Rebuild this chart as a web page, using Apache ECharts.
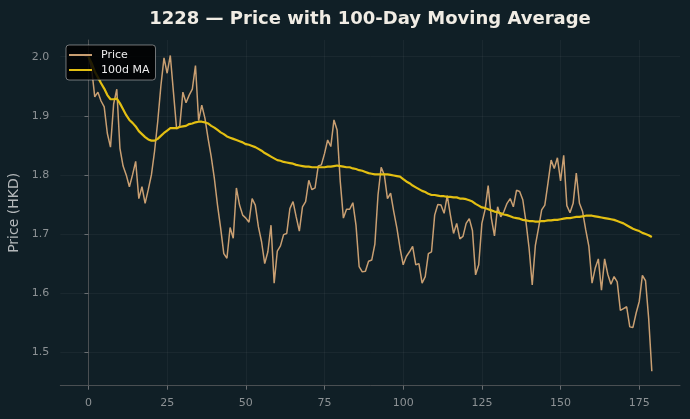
<!DOCTYPE html>
<html>
<head>
<meta charset="utf-8">
<script src="https://cdn.jsdelivr.net/npm/echarts@6/dist/echarts.min.js"></script>
<style>
html,body{margin:0;padding:0;background:#101f26;}
#c{width:690px;height:419px;}
</style>
</head>
<body>
<div id="c"></div>
<script>
const TITLE = '1228 \u2014 Price with 100-Day Moving Average';
const xTicks = [0, 25, 50, 75, 100, 125, 150, 175];
const yTicks = [1.5, 1.6, 1.7, 1.8, 1.9, 2.0];

const price = [
  2.000, 1.980, 1.932, 1.940, 1.925, 1.915, 1.870, 1.847, 1.920, 1.945,
  1.845, 1.815, 1.800, 1.780, 1.800, 1.823, 1.760, 1.780, 1.752, 1.775,
  1.800, 1.840, 1.890, 1.950, 1.998, 1.972, 2.002, 1.940, 1.878, 1.882,
  1.940, 1.922, 1.935, 1.945, 1.985, 1.892, 1.918, 1.896, 1.862, 1.831,
  1.794, 1.749, 1.710, 1.667, 1.659, 1.711, 1.693, 1.778, 1.749, 1.732,
  1.727, 1.720, 1.760, 1.749, 1.712, 1.687, 1.650, 1.670, 1.715, 1.617,
  1.671, 1.680, 1.699, 1.701, 1.743, 1.755, 1.729, 1.705, 1.746, 1.755,
  1.791, 1.775, 1.778, 1.815, 1.817, 1.836, 1.859, 1.848, 1.893, 1.876,
  1.789, 1.727, 1.742, 1.742, 1.753, 1.715, 1.645, 1.636, 1.637, 1.654,
  1.656, 1.683, 1.766, 1.813, 1.800, 1.760, 1.769, 1.738, 1.710, 1.676,
  1.648, 1.662, 1.670, 1.679, 1.648, 1.650, 1.617, 1.628, 1.667, 1.670,
  1.732, 1.750, 1.749, 1.735, 1.765, 1.732, 1.701, 1.718, 1.692, 1.696,
  1.718, 1.726, 1.706, 1.631, 1.648, 1.718, 1.741, 1.782, 1.727, 1.697,
  1.746, 1.729, 1.738, 1.752, 1.760, 1.746, 1.774, 1.772, 1.758, 1.721,
  1.676, 1.614, 1.681, 1.710, 1.741, 1.749, 1.786, 1.825, 1.811, 1.829,
  1.790, 1.833, 1.748, 1.736, 1.752, 1.803, 1.752, 1.738, 1.707, 1.679,
  1.617, 1.642, 1.658, 1.605, 1.658, 1.632, 1.615, 1.628, 1.619, 1.571,
  1.574, 1.577, 1.543, 1.542, 1.566, 1.586, 1.630, 1.621, 1.557, 1.468
];

const ma100 = [
  2.000, 1.989, 1.975, 1.965, 1.955, 1.946, 1.935, 1.928, 1.928, 1.929,
  1.921, 1.911, 1.901, 1.893, 1.888, 1.882, 1.874, 1.869, 1.864, 1.860,
  1.858, 1.858, 1.861, 1.866, 1.871, 1.875, 1.879, 1.879, 1.879, 1.881,
  1.882, 1.883, 1.886, 1.887, 1.889, 1.890, 1.890, 1.889, 1.887, 1.883,
  1.880, 1.876, 1.872, 1.869, 1.865, 1.863, 1.861, 1.859, 1.857, 1.855,
  1.852, 1.851, 1.849, 1.847, 1.844, 1.841, 1.837, 1.834, 1.831, 1.828,
  1.825, 1.824, 1.822, 1.821, 1.820, 1.819, 1.817, 1.816, 1.815, 1.814,
  1.814, 1.813, 1.813, 1.813, 1.813, 1.813, 1.814, 1.814, 1.815, 1.816,
  1.815, 1.814, 1.813, 1.813, 1.811, 1.810, 1.808, 1.807, 1.805, 1.803,
  1.802, 1.801, 1.801, 1.801, 1.801, 1.801, 1.800, 1.799, 1.798, 1.797,
  1.793, 1.789, 1.786, 1.782, 1.779, 1.776, 1.773, 1.771, 1.768, 1.766,
  1.766, 1.765, 1.764, 1.764, 1.763, 1.763, 1.762, 1.762, 1.760, 1.760,
  1.759, 1.757, 1.755, 1.751, 1.748, 1.745, 1.744, 1.742, 1.740, 1.738,
  1.737, 1.735, 1.733, 1.732, 1.730, 1.728, 1.727, 1.726, 1.724, 1.723,
  1.722, 1.722, 1.721, 1.721, 1.722, 1.722, 1.723, 1.723, 1.724, 1.724,
  1.725, 1.726, 1.727, 1.727, 1.728, 1.729, 1.729, 1.730, 1.731, 1.731,
  1.731, 1.730, 1.729, 1.728, 1.727, 1.726, 1.725, 1.724, 1.722, 1.720,
  1.718, 1.715, 1.712, 1.709, 1.707, 1.705, 1.702, 1.700, 1.698, 1.695
];

const priceData = price.map((v, i) => [i, v]);
const maData = ma100.map((v, i) => [i, v]);

const FONT = 'DejaVu Sans';
const chart = echarts.init(document.getElementById('c'), null, {renderer: 'canvas'});
chart.setOption({
  backgroundColor: '#101f26',
  animation: false,
  textStyle: {fontFamily: FONT},
  graphic: [{
    type: 'text', x: 370, y: 19,
    style: {text: TITLE, textAlign: 'center', textVerticalAlign: 'middle',
      fontFamily: FONT, fontWeight: 'bold', fontSize: 18, fill: '#f0ece4'}
  }],
  grid: {left: 60.3, right: 10, top: 40, bottom: 33.3, outerBoundsMode: 'none'},
  legend: {
    left: 66, top: 45, orient: 'vertical',
    padding: [3, 6, 3, 3], itemGap: 1,
    itemWidth: 23, itemHeight: 2,
    backgroundColor: 'rgba(0,0,0,0.85)', borderColor: 'rgba(200,200,200,0.55)',
    borderWidth: 1, borderRadius: 3,
    textStyle: {color: '#ececec', fontSize: 11, fontFamily: FONT, lineHeight: 14, padding: [0, 0, 0, 4]},
    data: [{name: 'Price', icon: 'rect'}, {name: '100d MA', icon: 'rect'}]
  },
  xAxis: {
    type: 'value', min: -8.95, max: 187.95,
    axisLine: {show: true, lineStyle: {color: '#4a4f52', width: 1}},
    axisTick: {show: true, length: 4, customValues: xTicks, lineStyle: {color: '#6a6f72'}},
    axisLabel: {customValues: xTicks, color: '#8c9194', fontSize: 11, fontFamily: FONT, margin: 12},
    splitLine: {show: true, lineStyle: {color: 'rgba(255,255,255,0.045)', width: 1}}
  },
  yAxis: {
    type: 'value', min: 1.4435, max: 2.0282,
    name: 'Price (HKD)', nameLocation: 'middle', nameGap: 33,
    nameTextStyle: {color: '#b4b8ba', fontSize: 14, fontFamily: FONT},
    axisLine: {show: true, lineStyle: {color: '#4a4f52', width: 1}},
    axisTick: {show: true, length: 4, customValues: yTicks, lineStyle: {color: '#6a6f72'}},
    axisLabel: {customValues: yTicks, color: '#8c9194', fontSize: 11, fontFamily: FONT, margin: 11,
      formatter: v => v.toFixed(1)},
    splitLine: {show: true, lineStyle: {color: 'rgba(255,255,255,0.045)', width: 1}}
  },
  series: [
    {name: 'Price', type: 'line', data: priceData, showSymbol: false, symbol: 'none',
      lineStyle: {color: '#c99f72', width: 1.5}, itemStyle: {color: '#c99f72'}, z: 2},
    {name: '100d MA', type: 'line', data: maData, showSymbol: false, symbol: 'none',
      lineStyle: {color: '#e3bf12', width: 2.2}, itemStyle: {color: '#e3bf12'}, z: 3}
  ]
});
</script>
</body>
</html>
